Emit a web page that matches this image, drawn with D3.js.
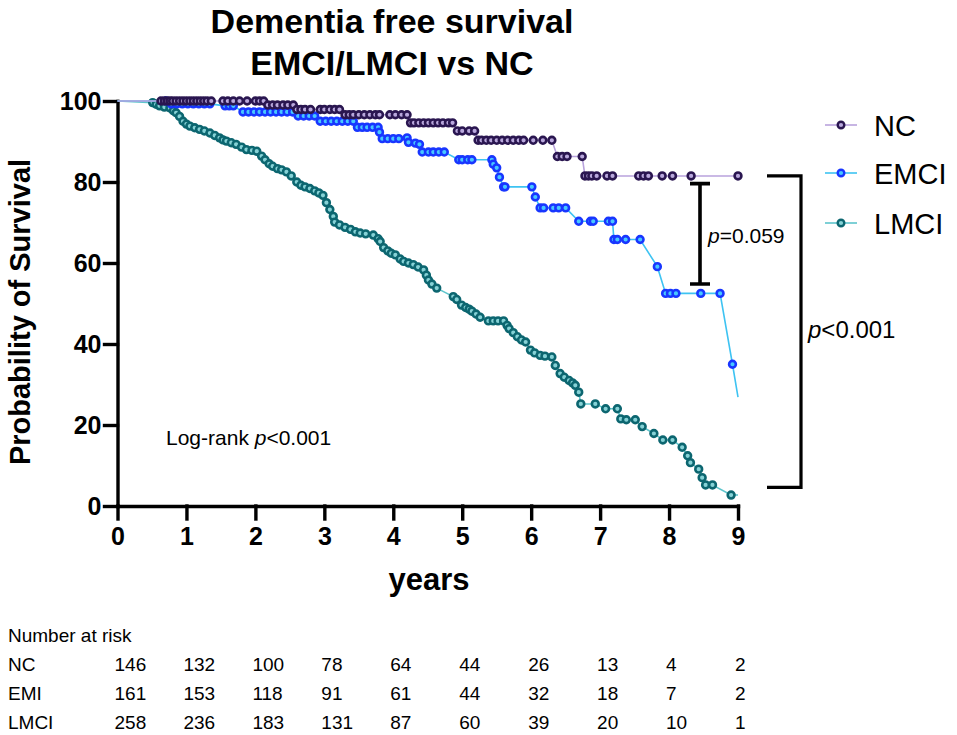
<!DOCTYPE html>
<html>
<head>
<meta charset="utf-8">
<script src="https://cdn.jsdelivr.net/npm/d3@7"></script>
<style>
  body { margin: 0; background: #fff; }
  svg text { font-family: Arial, "Liberation Sans", sans-serif; }
</style>
</head>
<body>
<div id="chart"></div>
<script>
// survival curves (years, % free of dementia)
const ncTimes = [0, 0.63, 0.68, 0.72, 0.76, 0.8, 0.85, 0.9, 0.95, 1.0, 1.05, 1.1, 1.15, 1.2, 1.25, 1.3, 1.36,
  1.53, 1.6, 1.68, 1.77, 1.88, 2.0, 2.06, 2.12,
  2.18, 2.25, 2.32, 2.4, 2.47, 2.55,
  2.6, 2.66, 2.72, 2.8, 2.94, 3.0, 3.08, 3.15, 3.22,
  3.3, 3.36, 3.42, 3.5, 3.58, 3.66, 3.74, 3.8, 3.95, 4.03, 4.12, 4.2,
  4.25, 4.3, 4.37, 4.44, 4.51, 4.58, 4.65, 4.72, 4.8, 4.86,
  4.93, 5.0, 5.1, 5.18,
  5.23, 5.28, 5.35, 5.42, 5.5, 5.58, 5.66, 5.74, 5.82, 5.89, 6.03, 6.17, 6.3,
  6.38, 6.45, 6.52, 6.74,
  6.78, 6.83, 6.88, 6.95, 7.1, 7.18, 7.56, 7.63, 7.7, 7.9, 8.05, 8.32, 9.0];
const ncSurv = [100, 100, 100, 100, 100, 100, 100, 100, 100, 100, 100, 100, 100, 100, 100, 100, 100,
  100, 100, 100, 100, 100, 100, 100, 100,
  99, 99, 99, 99, 99, 99,
  97.9, 97.9, 97.9, 97.9, 97.9, 97.9, 97.9, 97.9, 97.9,
  96.6, 96.6, 96.6, 96.6, 96.6, 96.6, 96.6, 96.6, 96.6, 96.6, 96.6, 96.6,
  94.6, 94.6, 94.6, 94.6, 94.6, 94.6, 94.6, 94.6, 94.6, 94.6,
  92.6, 92.6, 92.6, 92.6,
  90.3, 90.3, 90.3, 90.3, 90.3, 90.3, 90.3, 90.3, 90.3, 90.3, 90.3, 90.3, 90.3,
  86.3, 86.3, 86.3, 86.3,
  81.5, 81.5, 81.5, 81.5, 81.5, 81.5, 81.5, 81.5, 81.5, 81.5, 81.5, 81.5, 81.5];

const emciTimes = [0, 0.7, 0.78, 0.86, 0.94, 1.02, 1.1, 1.18, 1.26, 1.34,
  1.56, 1.62, 1.68,
  1.82, 1.9, 1.98, 2.06, 2.14, 2.22, 2.3, 2.38, 2.46, 2.54,
  2.62, 2.7, 2.78, 2.86,
  2.94, 3.02, 3.1, 3.18, 3.26, 3.34, 3.42,
  3.48, 3.55, 3.62, 3.7, 3.78, 3.8,
  3.84, 3.92, 4.0, 4.08, 4.2, 4.22, 4.32, 4.38,
  4.42, 4.51, 4.58, 4.66, 4.74,
  4.95, 5.0, 5.08, 5.14, 5.43, 5.45, 5.5, 5.54,
  5.6, 5.62, 6.01, 6.06,
  6.13, 6.18, 6.32, 6.4, 6.5,
  6.69, 6.86, 6.9, 7.12, 7.18,
  7.2, 7.25, 7.37, 7.58, 7.83,
  7.95, 8.02, 8.1, 8.46, 8.74, 8.92, 9.0];
const emciSurv = [100, 100, 99.3, 99.3, 99.3, 99.3, 99.3, 99.3, 99.3, 99.3,
  98.8, 98.8, 98.8,
  97.3, 97.3, 97.3, 97.3, 97.3, 97.3, 97.3, 97.3, 97.3, 97.3,
  96.3, 96.3, 96.3, 96.3,
  95, 95, 95, 95, 95, 95, 95,
  93.5, 93.5, 93.5, 93.5, 93.5, 92.3,
  90.7, 90.7, 90.7, 90.7, 90.9, 89.8, 89.6, 89.3,
  87.4, 87.4, 87.4, 87.4, 87.4,
  85.5, 85.5, 85.5, 85.5, 85.5, 84.4, 83.5, 81.2,
  78.8, 78.8, 78.8, 76.3,
  73.6, 73.6, 73.6, 73.6, 73.6,
  70.3, 70.3, 70.3, 70.3, 70.3,
  65.8, 65.8, 65.8, 65.8, 59.1,
  52.5, 52.5, 52.5, 52.5, 52.5, 35, 26.9];

const lmciTimes = [0, 0.51, 0.56, 0.61, 0.68, 0.76, 0.81, 0.85, 0.9, 0.95, 1.0, 1.05, 1.12, 1.19, 1.26, 1.34,
  1.41, 1.48, 1.53, 1.58, 1.65, 1.72, 1.8, 1.87, 1.95, 2.02, 2.09, 2.14, 2.2, 2.25, 2.32, 2.38,
  2.45, 2.52, 2.6, 2.66, 2.72, 2.79, 2.86, 2.92, 2.98, 3.03, 3.08, 3.13, 3.15, 3.22, 3.3, 3.38,
  3.45, 3.52, 3.6, 3.71, 3.78, 3.81, 3.86, 3.92, 3.97, 4.03, 4.1, 4.15, 4.22, 4.29, 4.36, 4.44,
  4.48, 4.51, 4.56, 4.63, 4.87, 4.92, 4.99, 5.05, 5.1, 5.14, 5.2, 5.26, 5.38, 5.45, 5.52, 5.6,
  5.65, 5.68, 5.74, 5.8, 5.86, 5.92, 5.99, 6.05, 6.13, 6.2, 6.3, 6.35, 6.42, 6.48, 6.55, 6.6,
  6.64, 6.69, 6.72, 6.93, 7.08, 7.25, 7.3, 7.38, 7.51, 7.61, 7.78, 7.91, 8.05, 8.19, 8.27, 8.31,
  8.43, 8.48, 8.53, 8.63, 8.9, 9.0];
const lmciSurv = [100, 99.6, 99.2, 98.8, 98.5, 98.3, 97.6, 97.1, 96.2, 95, 94.3, 93.8, 93.4, 93, 92.6, 92.1,
  91.5, 90.9, 90.4, 90.1, 89.7, 89.3, 88.6, 88, 87.8, 87.6, 86.4, 85.5, 84.5, 83.9, 83.3, 83,
  82.5, 81.5, 80, 79.2, 78.8, 78.4, 77.8, 77.3, 76.7, 74.9, 73.2, 71.5, 70.1, 69.4, 68.8, 68.3,
  67.7, 67.4, 67.2, 66.9, 66, 65.3, 63.8, 63, 62.4, 62, 61, 60.4, 60, 59.6, 59, 58.3,
  57, 55.8, 54.8, 53.8, 51.7, 51, 49.6, 49, 48.6, 48.1, 47.4, 46.6, 45.7, 45.7, 45.7, 45.7,
  44.6, 43.8, 42.8, 41.8, 41, 40.5, 38.5, 37.8, 37.2, 37, 36.8, 34.7, 32.7, 31.8, 31, 30.4,
  29.8, 28.1, 25.2, 25.2, 24, 24, 21.5, 21.3, 21.3, 19.6, 17.9, 16.3, 16.3, 14.5, 12.4, 10.7,
  9.1, 7, 5.2, 5.2, 2.7, 2.7];

const groups = ["NC", "EMCI", "LMCI"];
const yTicks = [0, 20, 40, 60, 80, 100];
const xTicks = [0, 1, 2, 3, 4, 5, 6, 7, 8, 9];

// number at risk table
const riskYears = [0, 1, 2, 3, 4, 5, 6, 7, 8, 9];
const riskRows = ["NC", "EMI", "LMCI"];
const riskNC = [146, 132, 100, 78, 64, 44, 26, 13, 4, 2];
const riskEMI = [161, 153, 118, 91, 61, 44, 32, 18, 7, 2];
const riskLMCI = [258, 236, 183, 131, 87, 60, 39, 20, 10, 1];

const width = 957, height = 735;
const margin = { top: 101, right: 219, bottom: 229, left: 117.5 };

const svg = d3.select("#chart").append("svg")
  .attr("width", width)
  .attr("height", height);

const x = d3.scaleLinear().domain([0, 9]).range([margin.left, width - margin.right]);
const y = d3.scaleLinear().domain([0, 100]).range([height - margin.bottom, margin.top]);

// title
svg.append("text")
  .attr("x", 392).attr("y", 33)
  .attr("text-anchor", "middle")
  .style("font-size", "34px").style("font-weight", "bold")
  .text("Dementia free survival");
svg.append("text")
  .attr("x", 392).attr("y", 75)
  .attr("text-anchor", "middle")
  .style("font-size", "34px").style("font-weight", "bold")
  .text("EMCI/LMCI vs NC");

// axes
const yAxis = d3.axisLeft(y).tickValues(yTicks).tickSize(13).tickSizeOuter(0).tickPadding(3);
const xAxis = d3.axisBottom(x).tickValues(xTicks).tickSize(13).tickSizeOuter(0).tickPadding(8);

const gy = svg.append("g")
  .attr("transform", "translate(" + margin.left + ",0)")
  .call(yAxis);
const gx = svg.append("g")
  .attr("transform", "translate(0," + (height - margin.bottom) + ")")
  .call(xAxis);

[gx, gy].forEach((g) => {
  g.selectAll("path, line").attr("stroke", "#000").attr("stroke-width", 3.4).attr("stroke-linecap", "square");
  g.selectAll("text")
    .attr("fill", "#000")
    .style("font-size", "25px").style("font-weight", "bold")
    .style("font-family", "Arial, 'Liberation Sans', sans-serif");
});

svg.append("text")
  .attr("x", 429).attr("y", 590)
  .attr("text-anchor", "middle")
  .style("font-size", "31px").style("font-weight", "bold")
  .text("years");

svg.append("text")
  .attr("transform", "translate(30,312) rotate(-90)")
  .attr("text-anchor", "middle")
  .style("font-size", "29px").style("font-weight", "bold")
  .text("Probability of Survival");

// curves
const styles = {
  NC: { line: "#b9a3dd", stroke: "#2a1650", fill: "#b9a8dc" },
  EMCI: { line: "#3ec3f2", stroke: "#1836ff", fill: "#48c8ff" },
  LMCI: { line: "#5ec5cc", stroke: "#0c6670", fill: "#86d2d6" },
};
const series = {
  NC: { t: ncTimes, s: ncSurv, lastMark: true },
  EMCI: { t: emciTimes, s: emciSurv, lastMark: false },
  LMCI: { t: lmciTimes, s: lmciSurv, lastMark: false },
};

const line = d3.line().x((d) => x(d[0])).y((d) => y(d[1]));

["LMCI", "EMCI", "NC"].forEach((name) => {
  const ser = series[name];
  const pts = ser.t.map((t, i) => [t, ser.s[i]]);
  const marks = pts.filter((d, i) => i > 0 && (ser.lastMark || i < pts.length - 1));
  const g = svg.append("g");
  g.append("path")
    .datum(pts)
    .attr("d", line)
    .attr("fill", "none")
    .attr("stroke", styles[name].line)
    .attr("stroke-width", 1.6);
  g.selectAll("circle")
    .data(marks)
    .join("circle")
    .attr("cx", (d) => x(d[0]))
    .attr("cy", (d) => y(d[1]))
    .attr("r", 3.4)
    .attr("fill", styles[name].fill)
    .attr("stroke", styles[name].stroke)
    .attr("stroke-width", 2.6);
});

// legend
const legendY = [125, 173, 223];
groups.forEach((name, i) => {
  const g = svg.append("g").attr("transform", "translate(0," + legendY[i] + ")");
  g.append("line")
    .attr("x1", 825).attr("x2", 857)
    .attr("stroke", styles[name].line).attr("stroke-width", 1.6);
  g.append("circle")
    .attr("cx", 841).attr("r", 3.3)
    .attr("fill", styles[name].fill)
    .attr("stroke", styles[name].stroke)
    .attr("stroke-width", 2.4);
  g.append("text")
    .attr("x", 874).attr("y", 10.5)
    .style("font-size", "29px")
    .text(name);
});

// comparison brackets
svg.append("path")
  .attr("d", "M767," + y(81.5) + "H801V" + y(4.6) + "H767")
  .attr("fill", "none").attr("stroke", "#000").attr("stroke-width", 3.2);

svg.append("path")
  .attr("d", "M690," + y(79.6) + "H710M700," + y(79.6) + "V" + y(54.8) + "M690," + y(54.8) + "H710")
  .attr("fill", "none").attr("stroke", "#000").attr("stroke-width", 3.6);

const pLabel = (px, py, size, rest) => {
  const t = svg.append("text").attr("x", px).attr("y", py).style("font-size", size);
  t.append("tspan").style("font-style", "italic").text("p");
  t.append("tspan").text(rest);
  return t;
};
pLabel(708, 243, "21px", "=0.059");
pLabel(808, 338, "24px", "<0.001");

const lr = svg.append("text").attr("x", 166).attr("y", 445).style("font-size", "21px");
lr.append("tspan").text("Log-rank ");
lr.append("tspan").style("font-style", "italic").text("p");
lr.append("tspan").text("<0.001");

// number at risk
const table = svg.append("g").style("font-size", "19px");
table.append("text").attr("x", 8).attr("y", 642).text("Number at risk");
[riskNC, riskEMI, riskLMCI].forEach((row, r) => {
  const ty = 671 + r * 29;
  table.append("text").attr("x", 8).attr("y", ty).text(riskRows[r]);
  table.selectAll(null)
    .data(row)
    .join("text")
    .attr("x", (d, i) => x(riskYears[i]) - 3)
    .attr("y", ty)
    .text((d) => d);
});
</script>
</body>
</html>
